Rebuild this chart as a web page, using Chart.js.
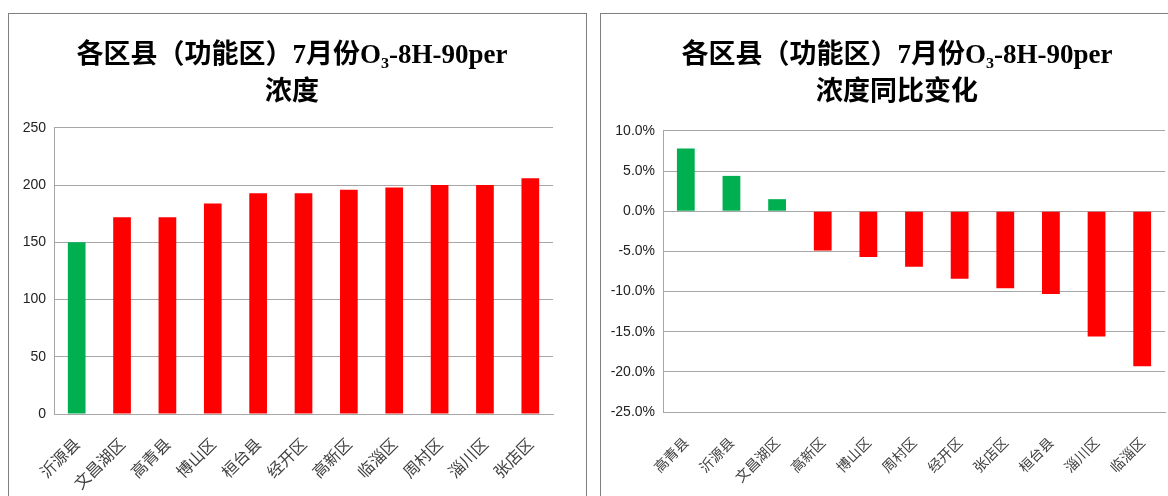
<!DOCTYPE html>
<html>
<head>
<meta charset="utf-8">
<script src="https://cdn.jsdelivr.net/npm/chart.js@4"></script>
<style>
  body { margin: 0; background: #fff; overflow: hidden; width: 1168px; height: 496px; position: relative; }
  .panel { position: absolute; top: 13px; height: 520px; border: 1px solid #7f7f7f; overflow: hidden; background: #fff; }
  .panel canvas { position: absolute; left: 0; top: 0; }
</style>
</head>
<body>
<div class="panel" style="left:8px; width:577px;">
  <canvas id="concChart" width="564" height="482"></canvas>
</div>
<div class="panel" style="left:600px; width:620px;">
  <canvas id="changeChart" width="592" height="482"></canvas>
</div>
<script>
// Left chart: O3-8H-90per concentration by district
let concLabels = ["沂源县", "文昌湖区", "高青县", "博山区", "桓台县", "经开区", "高新区", "临淄区", "周村区", "淄川区", "张店区"];
let concValues = [150, 172, 172, 184, 193, 193, 196, 198, 200, 200, 206];
let concTicks = [0, 50, 100, 150, 200, 250];

// Right chart: year-on-year change (%)
let changeLabels = ["高青县", "沂源县", "文昌湖区", "高新区", "博山区", "周村区", "经开区", "张店区", "桓台县", "淄川区", "临淄区"];
let changeValues = [7.8, 4.4, 1.5, -4.9, -5.7, -6.9, -8.4, -9.6, -10.3, -15.6, -19.3];
let changeTicks = [-25, -20, -15, -10, -5, 0, 5, 10];

const GREEN = "#00B050";
const RED = "#FF0000";
const GRID = "#A6A6A6";
const titleFont = { family: "'Liberation Serif', 'Noto Sans CJK SC', serif", size: 27, weight: "bold", lineHeight: 1.35 };
const tickFont = { family: "'Liberation Sans Narrow', 'Liberation Sans', sans-serif", size: 14 };

Chart.defaults.animation = false;

function makeChart(id, labels, values, ticks, colorFn, opts) {
  return new Chart(document.getElementById(id), {
    type: "bar",
    data: {
      labels: labels,
      datasets: [{
        data: values,
        backgroundColor: values.map(colorFn),
        categoryPercentage: 1,
        barPercentage: 0.39
      }]
    },
    options: {
      responsive: false,
      layout: { padding: { left: 0, right: opts.padRight, top: 0, bottom: 0 } },
      plugins: {
        legend: { display: false },
        tooltip: { enabled: false },
        title: {
          display: true,
          text: opts.title,
          color: "#000",
          font: titleFont,
          padding: { top: 24, bottom: opts.titleGap }
        }
      },
      scales: {
        x: {
          grid: { display: false },
          border: { color: GRID },
          ticks: {
            color: "#404040",
            font: { family: "'Noto Sans CJK SC', sans-serif", size: opts.labelSize },
            padding: opts.labelPad,
            minRotation: 45, maxRotation: 45, autoSkip: false
          },
          afterFit: function(scale) { scale.height = opts.xHeight; }
        },
        y: {
          min: ticks[0],
          max: ticks[ticks.length - 1],
          afterBuildTicks: function(scale) { scale.ticks = ticks.map(v => ({ value: v })); },
          grid: { color: GRID, drawTicks: false },
          border: { color: GRID },
          ticks: { color: "#222", font: tickFont, padding: 8, callback: opts.tickFmt },
          afterFit: function(scale) { scale.width = opts.yWidth; }
        }
      }
    },
    plugins: [{
      // nudge the centred title sideways, as in the original
      id: "titleShift",
      afterLayout: function(chart) {
        if (chart.titleBlock) {
          chart.titleBlock.left += opts.titleShift;
          chart.titleBlock.right += opts.titleShift;
        }
      }
    }]
  });
}

makeChart("concChart", concLabels, concValues, concTicks,
  v => v <= 160 ? GREEN : RED,
  {
    title: ["各区县（功能区）7月份O₃-8H-90per", "浓度"],
    titleGap: 17, padRight: 20, xHeight: 82, yWidth: 45, titleShift: 11,
    labelSize: 16, labelPad: 12,
    tickFmt: v => String(v)
  });

makeChart("changeChart", changeLabels, changeValues, changeTicks,
  v => v >= 0 ? GREEN : RED,
  {
    title: ["各区县（功能区）7月份O₃-8H-90per", "浓度同比变化"],
    titleGap: 20, padRight: 28, xHeight: 84, yWidth: 62, titleShift: 14,
    labelSize: 14, labelPad: 14,
    tickFmt: v => v.toFixed(1) + "%"
  });
</script>
</body>
</html>
